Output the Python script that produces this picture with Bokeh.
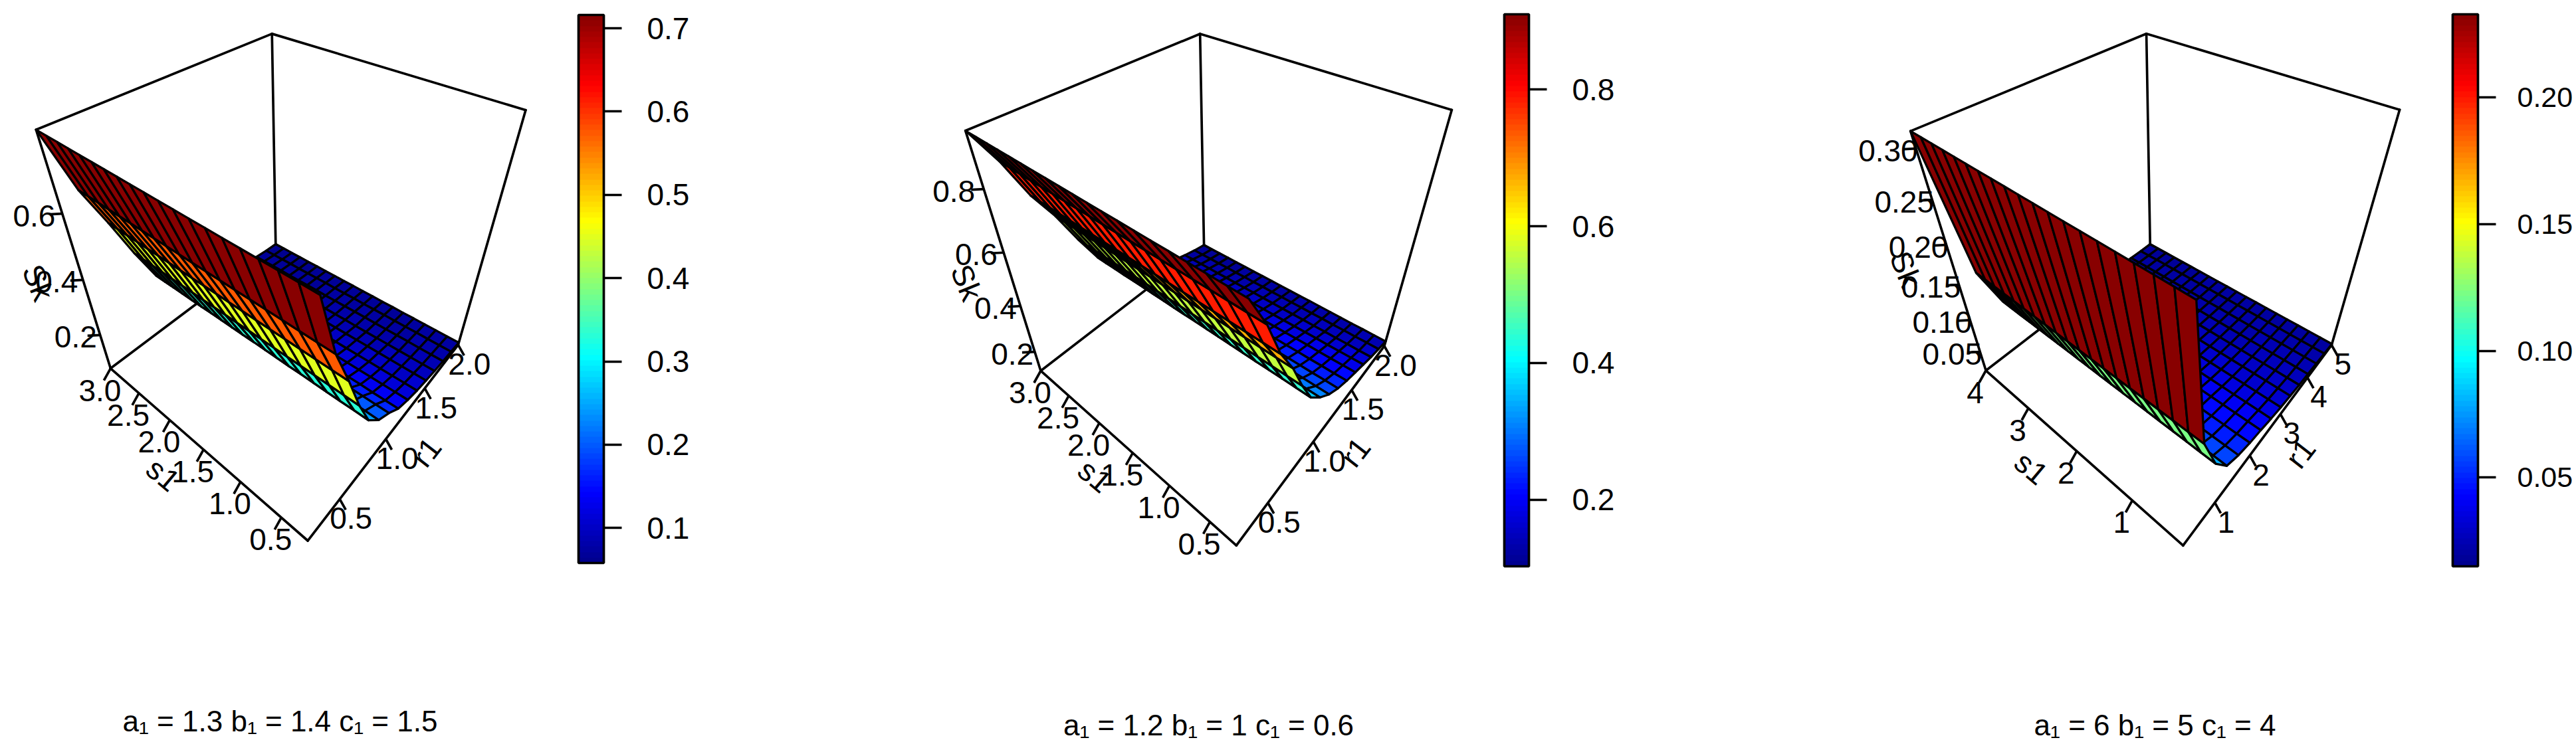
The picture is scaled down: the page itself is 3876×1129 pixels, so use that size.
import numpy as np
from bokeh.core.properties import value
from bokeh.embed import file_html
from bokeh.layouts import row
from bokeh.models import ColorBar, ColumnDataSource, FixedTicker, LinearColorMapper, PrintfTickFormatter, Range1d
from bokeh.plotting import figure
from bokeh.resources import INLINE

FONT = "Liberation Sans"

# grid of the two parameters
r_a = [.200,.329,.457,.586,.714,.843,.971,1.100,1.229,1.357,1.486,1.614,1.743,1.871,2.000]
s_a = [.200,.347,.495,.642,.789,.937,1.084,1.232,1.379,1.526,1.674,1.821,1.968,2.116,2.263,2.411,2.558,2.705,2.853,3.000]
r_c = [.200,.543,.886,1.229,1.571,1.914,2.257,2.600,2.943,3.286,3.629,3.971,4.314,4.657,5.000]
s_c = [.2,.4,.6,.8,1.0,1.2,1.4,1.6,1.8,2.0,2.2,2.4,2.6,2.8,3.0,3.2,3.4,3.6,3.8,4.0]

# Sk: one row per r value, one column per s value
sk_1 = [
 [.806]*20, [.636]*20, [.515]*20, [.385]*20,
 [.275,.275,.274,.274,.274,.274,.273,.273,.273,.273,.272,.272,.272,.272,.271,.271,.271,.271,.270,.270],
 [.216,.216,.215,.215,.215,.214,.214,.214,.214,.213,.213,.213,.212,.212,.212,.211,.211,.211,.210,.210],
 [.185,.184,.183,.182,.181,.180,.179,.178,.177,.176,.175,.174,.173,.172,.171,.170,.169,.168,.166,.165],
 [.145,.144,.143,.143,.142,.141,.140,.140,.139,.138,.137,.136,.136,.135,.134,.133,.133,.132,.131,.130],
 [.125,.124,.123,.122,.121,.120,.119,.118,.117,.116,.115,.114,.113,.112,.111,.110,.109,.108,.106,.105],
 [.110,.109,.108,.107,.106,.105,.104,.103,.102,.101,.100,.099,.098,.097,.096,.095,.094,.093,.091,.090],
 [.100,.099,.098,.097,.096,.095,.094,.093,.092,.091,.090,.089,.088,.087,.086,.085,.084,.083,.081,.080],
 [.090,.089,.088,.087,.086,.085,.084,.083,.083,.082,.081,.080,.079,.078,.077,.076,.076,.075,.074,.073],
 [.083,.082,.081,.081,.080,.079,.078,.078,.077,.076,.075,.074,.074,.073,.072,.071,.071,.070,.069,.068],
 [.077,.076,.075,.075,.074,.073,.073,.072,.071,.071,.070,.069,.069,.068,.067,.066,.066,.065,.064,.063],
 [.070,.069,.069,.068,.068,.067,.067,.066,.066,.065,.065,.064,.064,.063,.063,.062,.062,.061,.061,.060],
]
sk_2 = [
 [.956]*20, [.850]*20, [.720]*20, [.620]*20, [.500]*20,
 [.393,.393,.393,.393,.392,.392,.392,.392,.392,.392,.391,.391,.391,.391,.391,.391,.390,.390,.390,.390],
 [.330,.329,.329,.328,.328,.327,.327,.326,.326,.325,.325,.324,.324,.323,.323,.322,.322,.321,.321,.320],
 [.280,.279,.278,.277,.276,.275,.274,.273,.272,.271,.269,.268,.267,.266,.265,.264,.263,.262,.261,.260],
 [.245,.244,.242,.241,.240,.238,.237,.236,.235,.233,.232,.231,.230,.228,.227,.226,.225,.223,.222,.220],
 [.220,.218,.217,.215,.214,.212,.211,.209,.208,.206,.204,.203,.201,.200,.198,.197,.195,.194,.192,.190],
 [.200,.198,.196,.194,.193,.191,.189,.187,.185,.183,.182,.180,.178,.176,.174,.172,.171,.169,.167,.165],
 [.180,.178,.176,.174,.173,.171,.169,.167,.165,.163,.162,.160,.158,.156,.154,.152,.151,.149,.147,.145],
 [.160,.158,.157,.155,.154,.152,.151,.149,.147,.146,.144,.143,.141,.139,.138,.136,.135,.133,.132,.130],
 [.145,.144,.142,.141,.139,.138,.136,.135,.133,.132,.130,.129,.127,.126,.124,.123,.121,.120,.118,.117],
 [.130,.129,.128,.126,.125,.124,.123,.122,.120,.119,.118,.117,.116,.114,.113,.112,.111,.110,.108,.107],
]
sk_3 = [
 [.3155]*20, [.151]*20, [.095]*20, [.063]*20,
 [.0530,.0528,.0527,.0525,.0524,.0522,.0521,.0519,.0518,.0516,.0515,.0513,.0512,.0510,.0509,.0507,.0505,.0504,.0502,.0500],
 [.0470,.0468,.0466,.0464,.0462,.0460,.0458,.0456,.0454,.0452,.0450,.0448,.0446,.0444,.0442,.0440,.0438,.0436,.0432,.0430],
 [.0430,.0427,.0424,.0421,.0418,.0415,.0412,.0409,.0406,.0403,.0400,.0397,.0394,.0391,.0388,.0385,.0382,.0379,.0374,.0370],
 [.0380,.0377,.0374,.0371,.0368,.0365,.0362,.0359,.0356,.0353,.0350,.0347,.0344,.0341,.0338,.0335,.0332,.0329,.0324,.0320],
 [.0340,.0337,.0334,.0331,.0328,.0325,.0322,.0319,.0316,.0313,.0310,.0307,.0304,.0301,.0298,.0295,.0292,.0289,.0284,.0280],
 [.0310,.0307,.0304,.0301,.0298,.0295,.0292,.0289,.0286,.0283,.0280,.0277,.0274,.0271,.0268,.0265,.0262,.0259,.0254,.0250],
 [.0280,.0277,.0275,.0272,.0270,.0267,.0265,.0262,.0260,.0257,.0255,.0252,.0250,.0247,.0245,.0242,.0240,.0237,.0233,.0230],
 [.0260,.0257,.0255,.0252,.0250,.0247,.0245,.0242,.0240,.0237,.0235,.0232,.0230,.0227,.0225,.0222,.0220,.0217,.0213,.0210],
 [.0240,.0238,.0235,.0233,.0231,.0229,.0226,.0224,.0222,.0220,.0217,.0215,.0213,.0211,.0208,.0206,.0204,.0202,.0198,.0195],
 [.0220,.0218,.0216,.0215,.0213,.0212,.0210,.0209,.0207,.0206,.0204,.0203,.0201,.0200,.0198,.0197,.0195,.0194,.0188,.0185],
 [.0200,.0199,.0198,.0197,.0196,.0195,.0194,.0193,.0192,.0191,.0190,.0189,.0188,.0187,.0186,.0185,.0184,.0183,.0181,.0180],
]

# axis ticks
s_ticks_ab = [.5, 1.0, 1.5, 2.0, 2.5, 3.0]
r_ticks_ab = [.5, 1.0, 1.5, 2.0]
s_ticks_c = [1, 2, 3, 4]
r_ticks_c = [1, 2, 3, 4, 5]
z_ticks_1 = [.2, .4, .6]
z_ticks_2 = [.2, .4, .6, .8]
z_ticks_3 = [.05, .10, .15, .20, .25, .30]
bar_ticks_1 = [.1, .2, .3, .4, .5, .6, .7]
bar_ticks_2 = [.2, .4, .6, .8]
bar_ticks_3 = [.05, .10, .15, .20]
titles = ["a\u2081 = 1.3 b\u2081 = 1.4 c\u2081 = 1.5",
          "a\u2081 = 1.2 b\u2081 = 1 c\u2081 = 0.6",
          "a\u2081 = 6 b\u2081 = 5 c\u2081 = 4"]

# jet palette, 100 steps
stops = [0, .125, .375, .625, .875, 1]
rgb = np.array([[0, 0, 143], [0, 0, 255], [0, 255, 255], [255, 255, 0], [255, 0, 0], [136, 0, 0]], float)
pos = np.linspace(0, 1, 100)
JET = ["#%02x%02x%02x" % tuple(int(round(np.interp(t, stops, rgb[:, c]))) for c in range(3)) for t in pos]

# cameras: homogeneous 3x4 projection of the unit box
CAM_1 = np.array([[243.5598445, -129.5494676, -86.6060241, 241.8179885],
                  [-52.8834963, -44.4202111, -249.9481298, 376.6487727],
                  [0.3481857, 0.2950722, -0.3829752, 1.0]])
CAM_2 = np.array([[716.3816209, 300.4016311, -620.3400548, 1607.9809414],
                  [-53.1592218, -44.2481182, -252.8899090, 379.9213947],
                  [0.3562789, 0.2998945, -0.3891750, 1.0]])
CAM_3 = np.array([[1228.4161604, 724.5073737, -1170.7311359, 3020.4989347],
                  [-53.4739773, -44.3486079, -252.5741413, 379.9775309],
                  [0.3587585, 0.3007951, -0.3895182, 1.0]])

PANELS = [
    dict(cam=CAM_1, xo=0, xs=1.9133, fig=(0, 1300), r=r_a, s=s_a, z=sk_1, zlim=(.06, .806), clim=(.058, .716),
         s_t=s_ticks_ab, r_t=r_ticks_ab, z_t=z_ticks_1, fmt_s="%.1f", fmt_r="%.1f", fmt_z="%.1f",
         bar=(870, 908, 22, 847), bar_t=bar_ticks_1, bar_f="%.1f", name=titles[0], bar_fs="46px", stand=38,
         s_lab=(245, 714), r_lab=(641, 680), k_lab=(57, 425), title=(421, 1085), zoff=(35, 10)),
    dict(cam=CAM_2, xo=1380, xs=2.1045, fig=(1300, 2700), r=r_a, s=s_a, z=sk_2, zlim=(.107, .956), clim=(.1025, .91),
         s_t=s_ticks_ab, r_t=r_ticks_ab, z_t=z_ticks_2, fmt_s="%.1f", fmt_r="%.1f", fmt_z="%.1f",
         bar=(2263, 2300, 21, 852), bar_t=bar_ticks_2, bar_f="%.1f", name=titles[1], bar_fs="46px", stand=38,
         s_lab=(1647, 716), r_lab=(2039, 680), k_lab=(1454, 425), title=(1818, 1091), zoff=(32, 16)),
    dict(cam=CAM_3, xo=2780, xs=2.0969, fig=(2700, 3872), r=r_c, s=s_c, z=sk_3, zlim=(.018, .3155), clim=(.015, .2327),
         s_t=s_ticks_c, r_t=r_ticks_c, z_t=z_ticks_3, fmt_s="%d", fmt_r="%d", fmt_z="%.2f",
         bar=(3690, 3728, 21, 852), bar_t=bar_ticks_3, bar_f="%.2f", name=titles[2], bar_fs="43px", stand=32,
         s_lab=(3056, 704), r_lab=(3461, 682), k_lab=(2867, 405), title=(3242, 1091), zoff=(42, 0)),
]
Y_SCALE = 2.1598
FS = "46px"
LW = 3.7


def build(pn):
    cam, xo, xs = pn["cam"], pn["xo"], pn["xs"]

    def proj(u, v, w):
        q = cam @ np.array([u, v, w, 1.0])
        return xo + (q[0] / q[2] - xo) * xs, q[1] / q[2] * Y_SCALE, q[2]

    x0, x1 = pn["fig"]
    p = figure(width=x1 - x0, height=1113, x_range=Range1d(x0, x1), y_range=Range1d(1113, 0),
               output_backend="svg", toolbar_location=None, x_axis_type=None, y_axis_type=None,
               min_border=0, outline_line_color=None)
    p.grid.visible = False

    # box
    edges = [((1, 1, 1), (0, 1, 1)), ((1, 1, 1), (1, 0, 1)), ((1, 1, 1), (1, 1, 0)), ((0, 1, 1), (0, 1, 0)),
             ((1, 0, 1), (1, 0, 0)), ((0, 1, 0), (0, 0, 0)), ((0, 0, 0), (1, 0, 0)), ((0, 1, 0), (1, 1, 0)),
             ((1, 1, 0), (1, 0, 0))]
    ex, ey = [], []
    for a, b in edges:
        A, B = proj(*a), proj(*b)
        ex.append([A[0], B[0]])
        ey.append([A[1], B[1]])
    p.multi_line(ex, ey, line_color="black", line_width=LW, line_cap="round")

    # surface
    r = np.array(pn["r"])
    s = np.array(pn["s"])
    z = np.array(pn["z"], float)
    zl, zh = pn["zlim"]
    U = (r - r[0]) / (r[-1] - r[0])
    V = (s - s[0]) / (s[-1] - s[0])
    W = (z - zl) / (zh - zl)
    cells = []
    for i in range(len(r) - 1):
        for j in range(len(s) - 1):
            corners = [(i, j), (i + 1, j), (i + 1, j + 1), (i, j + 1)]
            pts = [proj(U[a], V[b], W[a, b]) for a, b in corners]
            cells.append((np.mean([q[2] for q in pts]), [q[0] for q in pts], [q[1] for q in pts],
                          np.mean([z[a, b] for a, b in corners])))
    cells.sort(key=lambda c: -c[0])
    mapper = LinearColorMapper(palette=JET, low=pn["clim"][0], high=pn["clim"][1])
    src = ColumnDataSource(dict(xs=[c[1] for c in cells], ys=[c[2] for c in cells], cv=[c[3] for c in cells]))
    p.patches("xs", "ys", fill_color={"field": "cv", "transform": mapper},
              line_color="black", line_width=3.3, line_join="round", source=src)

    # ticks and labels
    tx, ty, lx, ly, lt = [], [], [], [], []
    rr = r[-1] - r[0]
    ss = s[-1] - s[0]
    for t in pn["s_t"]:
        b = proj(0, (t - s[0]) / ss, 0)
        tx.append([b[0], b[0] - 10])
        ty.append([b[1], b[1] + 18])
        lx.append(b[0] - 16)
        ly.append(b[1] + 33)
        lt.append(pn["fmt_s"] % t)
    for t in pn["r_t"]:
        b = proj((t - r[0]) / rr, 0, 0)
        tx.append([b[0], b[0] + 9])
        ty.append([b[1], b[1] + 16])
        lx.append(b[0] + 17)
        ly.append(b[1] + 29)
        lt.append(pn["fmt_r"] % t)
    za, zb = pn["zoff"]
    for t in pn["z_t"]:
        w = (t - zl) / (zh - zl)
        b = proj(0, 1, w)
        tx.append([b[0], b[0] - 19])
        ty.append([b[1], b[1] + 1])
        lx.append(b[0] - za - zb * w)
        ly.append(b[1] + 3)
        lt.append(pn["fmt_z"] % t)
    p.multi_line(tx, ty, line_color="black", line_width=LW)
    p.text(lx, ly, text=lt, text_font=value(FONT), text_font_size=FS, text_align="center", text_baseline="middle",
           text_color="black")

    # axis names
    for (xy, name, ang) in ((pn["s_lab"], "s1", -40), (pn["r_lab"], "r1", 52), (pn["k_lab"], "Sk", -68)):
        p.text([xy[0]], [xy[1]], text=[name], angle=[np.radians(ang)], text_font=value(FONT), text_font_size=FS,
               text_align="center", text_baseline="middle", text_color="black")

    p.text([pn["title"][0]], [pn["title"][1]], text=[pn["name"]], text_font=value(FONT),
           text_font_size="44px", text_align="center", text_baseline="middle", text_color="black")

    bl, br, bt, bb = pn["bar"]
    cb = ColorBar(color_mapper=mapper, ticker=FixedTicker(ticks=pn["bar_t"]),
                  formatter=PrintfTickFormatter(format=pn["bar_f"]),
                  width=int(round(br - bl)), height=int(round(bb - bt)),
                  location=(bl - x0, 1113 - bb), padding=0, margin=0,
                  bar_line_color="black", bar_line_width=LW,
                  major_tick_in=0, major_tick_out=27, major_tick_line_color="black", major_tick_line_width=LW,
                  minor_tick_line_color=None, label_standoff=pn["stand"],
                  major_label_text_font=FONT, major_label_text_font_size=pn["bar_fs"], major_label_text_color="black",
                  background_fill_color=None, border_line_color=None)
    p.add_layout(cb)
    return p


page = row([build(pn) for pn in PANELS], spacing=0)
open("out.html", "w").write(file_html(page, INLINE))
